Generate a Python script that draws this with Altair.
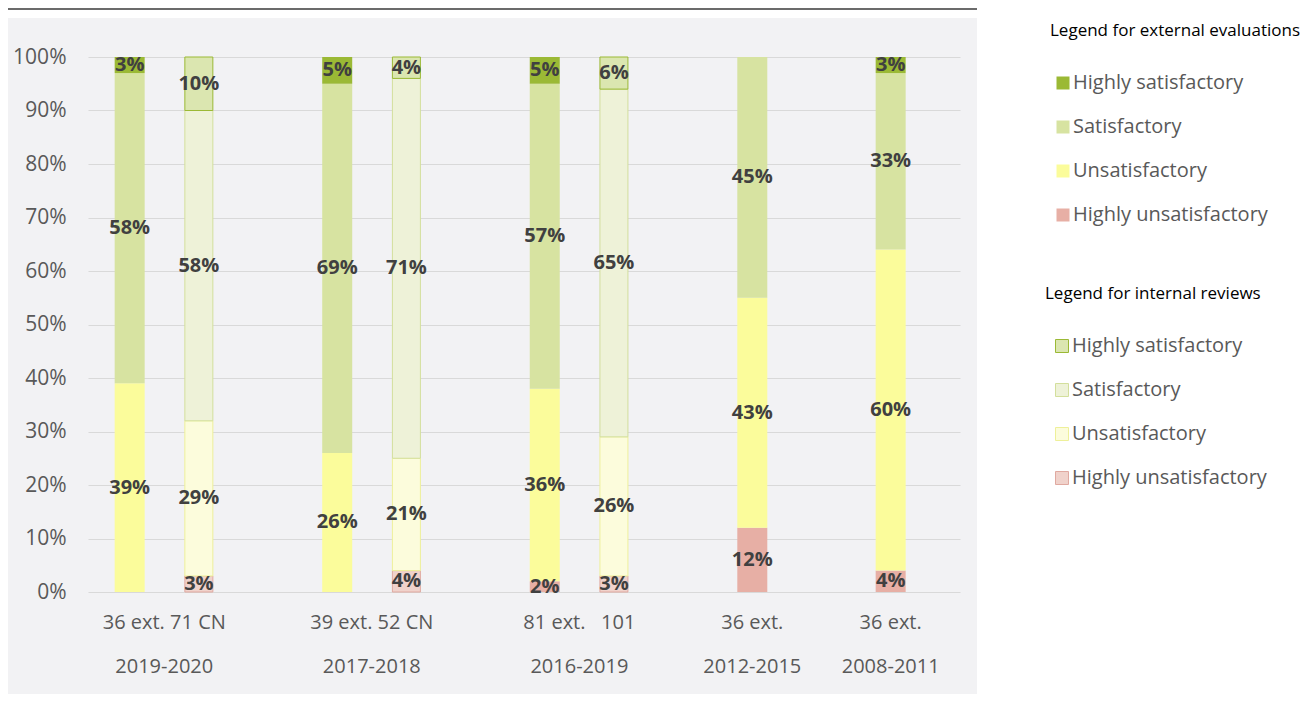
import altair as alt
import pandas as pd

# ---------------- data ----------------
periods = ["2019-2020", "2017-2018", "2016-2019", "2012-2015", "2008-2011"]
counts = ["36 ext. 71 CN", "39 ext. 52 CN", "81 ext.\u00a0\u00a0 101", "36 ext.", "36 ext."]
ratings = ["Highly unsatisfactory", "Unsatisfactory", "Satisfactory", "Highly satisfactory"]  # bottom -> top

# external evaluations (bottom -> top)
ext_2019_2020 = [0.00, 0.39, 0.58, 0.03]
ext_2017_2018 = [0.00, 0.26, 0.69, 0.05]
ext_2016_2019 = [0.02, 0.36, 0.57, 0.05]
ext_2012_2015 = [0.12, 0.43, 0.45, 0.00]
ext_2008_2011 = [0.04, 0.60, 0.33, 0.03]

# internal reviews (bottom -> top)
int_2019_2020 = [0.03, 0.29, 0.58, 0.10]
int_2017_2018 = [0.04, 0.21, 0.71, 0.04]
int_2016_2019 = [0.03, 0.26, 0.65, 0.06]

# layout: slot index of each bar along the x axis
ext_slots = [0, 3, 6, 9, 11]
int_slots = [1, 4, 7]

ext_series = [ext_2019_2020, ext_2017_2018, ext_2016_2019, ext_2012_2015, ext_2008_2011]
int_series = [int_2019_2020, int_2017_2018, int_2016_2019]

rows = []
for s, vals in zip(ext_slots, ext_series):
    for i, (r, v) in enumerate(zip(ratings, vals)):
        rows.append({"slot": s, "kind": "ext", "rating": r, "ord": i, "value": v})
for s, vals in zip(int_slots, int_series):
    for i, (r, v) in enumerate(zip(ratings, vals)):
        rows.append({"slot": s, "kind": "int", "rating": r, "ord": i, "value": v})
df = pd.DataFrame(rows)

label_slots = []
for k, p in enumerate(periods):
    if k < len(int_slots):
        label_slots.append((ext_slots[k] + int_slots[k]) / 2)
    else:
        label_slots.append(ext_slots[k])
cat_df = pd.DataFrame({"slot": label_slots, "period": periods, "count": counts})

# ---------------- styling ----------------
FONT = "Open Sans"
legend_order = ["Highly satisfactory", "Satisfactory", "Unsatisfactory", "Highly unsatisfactory"]
ext_colors = ["#9bb935", "#d7e3a1", "#fbfc9b", "#e7afa5"]
int_fill = ["#dbe6b0", "#eef2d8", "#fcfcdc", "#f0d2cb"]
int_stroke = ["#9bb935", "#d3df9c", "#eef09a", "#e0a9a0"]

W, H = 872, 535
x_scale = alt.Scale(domain=[-0.53, 11.93], nice=False, zero=False)
y_scale = alt.Scale(domain=[0, 1], nice=False)


def legend(title, lx, ly, soff, stroke_w):
    return alt.Legend(
        orient="none", legendX=lx, legendY=ly, title=title,
        titleFont=FONT, titleFontSize=17, titleFontWeight="normal", titleColor="#000000",
        titleLimit=400, titlePadding=33,
        labelFont=FONT, labelFontSize=20, labelColor="#595959", labelLimit=320,
        labelOffset=0, symbolType="square", symbolSize=169, symbolOffset=soff,
        symbolStrokeWidth=stroke_w, rowPadding=24, padding=0,
    )


base = alt.Chart(df).transform_stack(
    stack="value", groupby=["slot"], as_=["y0", "y1"], sort=[alt.SortField("ord", order="ascending")]
).transform_calculate(mid="(datum.y0 + datum.y1) / 2")

y_axis = alt.Axis(
    format="%", values=[i / 10 for i in range(11)], labelFont=FONT, labelFontSize=21,
    labelColor="#595959", domain=False, ticks=False, labelPadding=22,
    gridColor="#d9d9d9", gridWidth=1, title=None,
)

ext_bars = base.transform_filter("datum.kind == 'ext'").mark_bar(size=30).encode(
    x=alt.X("slot:Q", scale=x_scale, axis=None),
    y=alt.Y("y0:Q", scale=y_scale, axis=y_axis),
    y2="y1:Q",
    fill=alt.Fill("rating:N", scale=alt.Scale(domain=legend_order, range=ext_colors),
                  legend=legend("Legend for external evaluations", 962, -34, 3, 0)),
)

int_legend = legend("Legend for internal reviews", 957, 229, 7, 1)
int_bars = base.transform_filter("datum.kind == 'int'").mark_bar(size=28, strokeWidth=1).encode(
    x=alt.X("slot:Q", scale=x_scale, axis=None),
    y=alt.Y("y0:Q", scale=y_scale, axis=y_axis),
    y2="y1:Q",
    fill=alt.Fill("rating:N", scale=alt.Scale(domain=legend_order, range=int_fill), legend=int_legend),
    stroke=alt.Stroke("rating:N", scale=alt.Scale(domain=legend_order, range=int_stroke), legend=int_legend),
)

labels = base.transform_filter("datum.value > 0").mark_text(
    font=FONT, fontSize=20, fontWeight="bold", color="#404040", align="center", baseline="middle"
).encode(
    x=alt.X("slot:Q", scale=x_scale, axis=None),
    y=alt.Y("mid:Q", scale=y_scale),
    text=alt.Text("value:Q", format=".0%"),
)

cat_base = alt.Chart(cat_df).mark_text(
    font=FONT, fontSize=20, color="#595959", align="center", baseline="middle"
)
count_text = cat_base.encode(x=alt.X("slot:Q", scale=x_scale, axis=None), y=alt.value(H + 31), text="count:N")
period_text = cat_base.encode(x=alt.X("slot:Q", scale=x_scale, axis=None), y=alt.value(H + 75), text="period:N")

# decorative page areas (white legend side, white strip and dark band at the top)
deco = alt.Chart(pd.DataFrame({"k": [0]}))
white_side = deco.mark_rect(color="#ffffff").encode(
    x=alt.value(889), x2=alt.value(1213), y=alt.value(-49), y2=alt.value(H + 102))
white_top = deco.mark_rect(color="#ffffff").encode(
    x=alt.value(-80), x2=alt.value(889), y=alt.value(-49), y2=alt.value(-39))
dark_top = deco.mark_rect(color="#6b6b6b").encode(
    x=alt.value(-80), x2=alt.value(889), y=alt.value(-49), y2=alt.value(-47))

chart = alt.layer(
    white_side, white_top, dark_top, ext_bars, int_bars, labels, count_text, period_text
).resolve_scale(fill="independent", stroke="independent").resolve_legend(
    fill="independent", stroke="independent"
).properties(
    width=W, height=H,
    autosize=alt.AutoSizeParams(type="none"),
    padding={"left": 80, "top": 49, "right": 341, "bottom": 102},
).configure(background="#f2f2f4").configure_view(stroke=None)

chart.save("out.html", embed_options={"renderer": "svg", "actions": False})
